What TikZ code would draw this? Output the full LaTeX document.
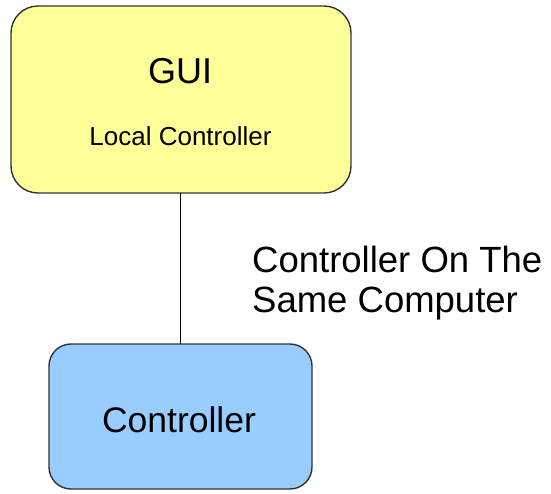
\documentclass[tikz,border=0pt]{standalone}
\usepackage{fontspec}
\setmainfont{Liberation Sans}
\definecolor{guiyellow}{HTML}{FFFF99}
\definecolor{ctrlblue}{HTML}{99CCFF}
\definecolor{edgegray}{HTML}{333333}
\begin{document}
\begin{tikzpicture}[x=1pt,y=-1pt,
  box/.style={draw=edgegray,line width=1.4pt},
  txt/.style={inner sep=0pt,text=black}]
\useasboundingbox (0,0) rectangle (551,493);
\draw[box,fill=guiyellow,rounded corners=27pt] (11,6) rectangle (351,193);
\draw[box,fill=ctrlblue,rounded corners=22pt] (49,344) rectangle (312,489);
\node[txt,anchor=base] (gui) at (180,83) {\fontsize{36}{40}\selectfont GUI};
\node[txt,anchor=base] (local) at (180.5,145) {\fontsize{26}{30}\selectfont Local Controller};
\node[txt,anchor=base] (ctrl) at (179,432) {\fontsize{35.5}{40}\selectfont Controller};
\coordinate (top) at (180.5,193);
\coordinate (bot) at (180.5,344);
\draw[draw=black,line width=1.4pt] (top) -- (bot);
\node[txt,anchor=base west] (lab1) at (252,272) {\fontsize{36.5}{40}\selectfont Controller On The};
\node[txt,anchor=base west] (lab2) at (252,312) {\fontsize{36.5}{40}\selectfont Same Computer};
\end{tikzpicture}
\end{document}
